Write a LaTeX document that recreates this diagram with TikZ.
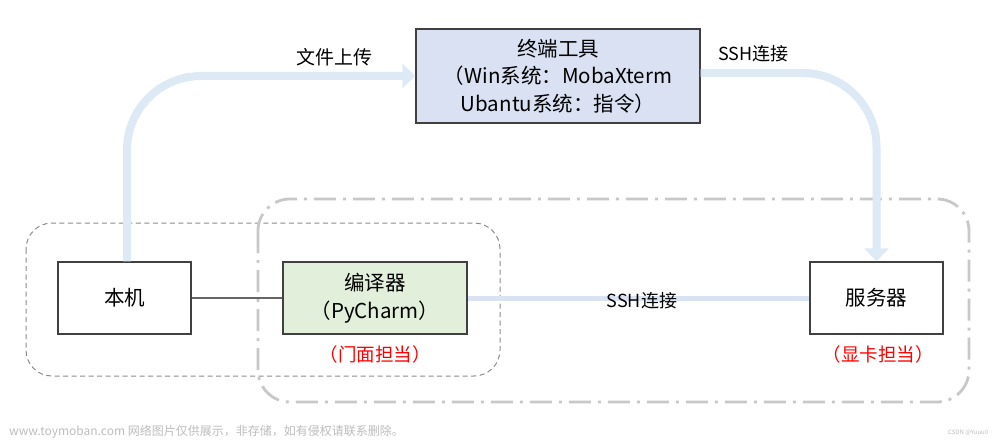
\documentclass[tikz,border=0pt]{standalone}
\usepackage{fontspec}
\setmainfont{Noto Sans CJK SC}
\usetikzlibrary{arrows.meta}
\definecolor{flowblue}{HTML}{DDEAF6}
\definecolor{sshblue}{HTML}{DAE3F3}
\definecolor{termfill}{HTML}{D9E1F2}
\definecolor{idefill}{HTML}{E2EFDA}
\definecolor{boxline}{HTML}{404040}
\definecolor{dashgray}{HTML}{8C8C8C}
\definecolor{dotgray}{HTML}{C8C8C8}
\definecolor{wmgray}{HTML}{BDBDBD}
\tikzset{
  box/.style={draw=boxline, line width=1.4pt, fill=white, inner sep=0pt, align=center,
              font=\fontsize{20.5}{27.5}\selectfont},
  redlabel/.style={text=red, font=\fontsize{18.5}{20}\selectfont, inner sep=0pt},
  blacklabel/.style={text=black, font=\fontsize{18}{20}\selectfont, inner sep=0pt},
  flowarrow/.style={draw=flowblue, line width=8pt, -{Triangle[length=13pt,width=24pt]}},
  groupdash/.style={draw=dashgray, line width=1pt, dash pattern=on 5pt off 3.5pt},
  groupdashdot/.style={draw=dotgray, line width=2.8pt, dash pattern=on 22pt off 7pt on 3pt off 7pt},
}
\begin{document}
\begin{tikzpicture}[x=1pt,y=-1pt]
\useasboundingbox (0,0) rectangle (1000,441);
\fill[white] (0,0) rectangle (1000,441);

% group frames
\draw[groupdash, rounded corners=26pt] (26,223) rectangle (500,376);
\draw[groupdashdot, rounded corners=32pt] (258,199) rectangle (969,402);

% nodes
\node[box, minimum width=133pt, minimum height=72pt] (local) at (124.5,298) {本机};
\node[box, fill=idefill, minimum width=184pt, minimum height=72pt] (ide) at (375,298) {编译器\\（PyCharm）};
\node[box, minimum width=133pt, minimum height=72pt] (srv) at (876.5,298) {服务器};
\node[box, fill=termfill, minimum width=284pt, minimum height=94pt] (term) at (558,76)
  {终端工具\\（Win系统：MobaXterm\\Ubantu系统：指令）};

% connectors
\draw[draw=boxline!80, line width=1.3pt] (local.east) -- (ide.west);
\draw[draw=sshblue, line width=5pt] (ide.east) -- (srv.west)
  node[pos=0.51, blacklabel, yshift=-3pt] {SSH连接};

\coordinate (upstart) at ([xshift=2.5pt]local.north);
\draw[flowarrow, rounded corners=74pt] (upstart) |- (term.west)
  node[pos=0.86, blacklabel, font=\fontsize{19}{20}\selectfont, above=6pt] {文件上传};
\draw[flowarrow, rounded corners=74pt] ([yshift=3pt]term.east) -| (srv.north)
  node[pos=0.15, blacklabel, above=7pt] {SSH连接};

% role labels
\node[redlabel] (idelabel) at (375,354) {（门面担当）};
\node[redlabel] (srvlabel) at (878,354) {（显卡担当）};

% watermark
\node[anchor=west, text=wmgray, inner sep=0pt, font=\fontsize{12}{13}\selectfont] (wm) at (9,432)
  {www.toymoban.com 网络图片仅供展示，非存储，如有侵权请联系删除。};
\node[anchor=west, text=wmgray, inner sep=0pt, font=\fontsize{6}{7}\selectfont] (csdn) at (948,433)
  {CSDN @Yuuu0};
\end{tikzpicture}
\end{document}
